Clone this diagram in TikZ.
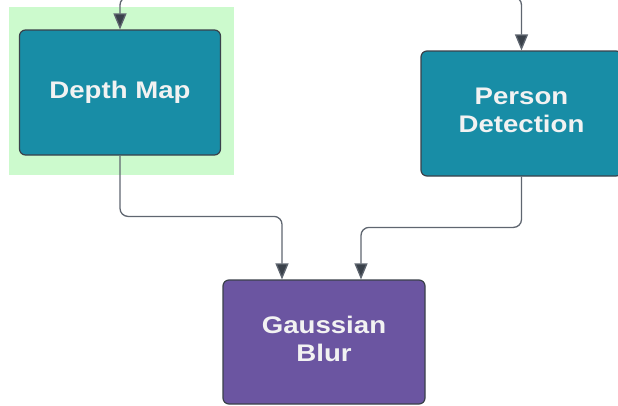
\documentclass[tikz,border=0pt]{standalone}
\usepackage{fontspec}
\setmainfont{Liberation Sans}[FakeStretch=1.15]
\usetikzlibrary{arrows.meta, positioning}

\definecolor{stagefill}{HTML}{188DA6}
\definecolor{blurfill}{HTML}{6B55A1}
\definecolor{focusgreen}{HTML}{CCFACD}
\definecolor{edgegray}{HTML}{3A414A}
\definecolor{linkgray}{HTML}{5F6670}
\definecolor{labelwhite}{HTML}{F2F2F2}

\begin{document}
\begin{tikzpicture}[x=1pt, y=-1pt,
  stagebox/.style={draw=edgegray, line width=1.2pt, rounded corners=6pt,
    minimum width=201pt, minimum height=125pt, inner sep=0pt, align=center,
    text=labelwhite, font=\fontsize{24}{28}\selectfont\bfseries},
  link/.style={draw=linkgray, line width=1.3pt, rounded corners=8pt,
    -{Triangle[length=16pt, width=13pt, fill=edgegray]}}]

\useasboundingbox (0,0) rectangle (618,405);

\fill [focusgreen] (9,7) rectangle (234,175);

\node [stagebox, fill=stagefill] (depth)  at (120,92.5)  {Depth Map};
\node [stagebox, fill=stagefill] (person) at (521.5,113.5) {Person\\Detection\\[-22pt]};
\node [stagebox, fill=blurfill, minimum width=202pt, minimum height=124pt]
  (blur) at (324,342) {Gaussian\\Blur\\[-22pt]};

\coordinate (depthin)  at (132,-3);
\coordinate (personin) at (509,-3);

\draw [link] (depthin) -| (depth.north);
\draw [link] (personin) -| (person.north);

\draw [link] (depth.south) |- ([xshift=-42pt,yshift=63pt]blur.north) -- ([xshift=-42pt]blur.north);
\draw [link] (person.south) |- ([xshift=37pt,yshift=52pt]blur.north) -- ([xshift=37pt]blur.north);

\end{tikzpicture}
\end{document}
